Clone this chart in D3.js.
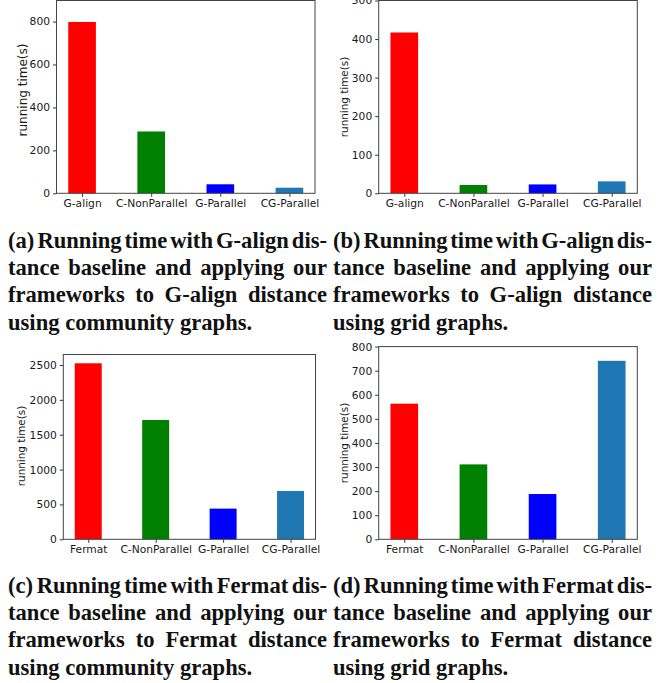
<!DOCTYPE html>
<html>
<head>
<meta charset="utf-8">
<script src="https://cdnjs.cloudflare.com/ajax/libs/d3/7.8.5/d3.min.js"></script>
<style>
  body { margin: 0; background: #fff; }
  svg { display: block; }
</style>
</head>
<body>
<div id="fig"></div>
<script>
// categories of each subplot
var catsAlign = ["G-align", "C-NonParallel", "G-Parallel", "CG-Parallel"];
var catsFermat = ["Fermat", "C-NonParallel", "G-Parallel", "CG-Parallel"];

// running time (s)
var timesA = [798, 288, 42, 26];
var timesB = [417, 21.5, 23, 31];
var timesC = [2524, 1711, 440, 693];
var timesD = [563, 311, 188, 741];

// y tick labels
var ticksA = [0, 200, 400, 600, 800];
var ticksB = [0, 100, 200, 300, 400, 500];
var ticksC = [0, 500, 1000, 1500, 2000, 2500];
var ticksD = [0, 100, 200, 300, 400, 500, 600, 700, 800];

var barColors = ["#ff0000", "#008000", "#0000ff", "#1f77b4"];

var captionA = ["(a) Running time with G-align dis-", "tance baseline and applying our",
  "frameworks to G-align distance", "using community graphs."];
var captionB = ["(b) Running time with G-align dis-", "tance baseline and applying our",
  "frameworks to G-align distance", "using grid graphs."];
var captionC = ["(c) Running time with Fermat dis-", "tance baseline and applying our",
  "frameworks to Fermat distance", "using community graphs."];
var captionD = ["(d) Running time with Fermat dis-", "tance baseline and applying our",
  "frameworks to Fermat distance", "using grid graphs."];

var svg = d3.select("#fig")
  .append("svg")
  .attr("width", 667)
  .attr("height", 683);

var panels = [
  {cats: catsAlign, vals: timesA, ticks: ticksA, yMax: 898, left: 56.5, right: 315, top: 0.5, bottom: 193.3, labelX: 22.7, labelY: 90, labelSize: 12},
  {cats: catsAlign, vals: timesB, ticks: ticksB, yMax: 500, left: 378.7, right: 637.3, top: 0.5, bottom: 193.3, labelX: 344.7, labelY: 97, labelSize: 10.4},
  {cats: catsFermat, vals: timesC, ticks: ticksC, yMax: 2650, left: 63.3, right: 315.5, top: 354.5, bottom: 539.3, labelX: 21.7, labelY: 446, labelSize: 10.4},
  {cats: catsFermat, vals: timesD, ticks: ticksD, yMax: 800, left: 378.7, right: 637.3, top: 346.6, bottom: 539.3, labelX: 344.7, labelY: 443, labelSize: 10.4}
];

var tickFont = "'DejaVu Sans', sans-serif";

panels.forEach(function(p) {
  var g = svg.append("g");

  // matplotlib bar positions: index with width 0.4 and 5% margins
  var x = d3.scaleLinear()
    .domain([-0.37, p.cats.length - 1 + 0.37])
    .range([p.left, p.right]);
  var y = d3.scaleLinear()
    .domain([0, p.yMax])
    .range([p.bottom, p.top]);

  g.selectAll("rect.bar")
    .data(p.vals)
    .enter()
    .append("rect")
    .attr("class", "bar")
    .attr("x", function(d, i) { return x(i - 0.2); })
    .attr("y", function(d) { return y(d); })
    .attr("width", function(d, i) { return x(i + 0.2) - x(i - 0.2); })
    .attr("height", function(d) { return y(0) - y(d); })
    .style("fill", function(d, i) { return barColors[i]; });

  var yAxis = g.append("g")
    .attr("transform", "translate(" + p.left + ",0)")
    .call(d3.axisLeft(y).tickValues(p.ticks).tickFormat(d3.format("d"))
      .tickSize(3.5).tickPadding(3).tickSizeOuter(0));
  var xAxis = g.append("g")
    .attr("transform", "translate(0," + p.bottom + ")")
    .call(d3.axisBottom(x).tickValues(d3.range(p.cats.length))
      .tickFormat(function(i) { return p.cats[i]; })
      .tickSize(3.5).tickPadding(3).tickSizeOuter(0));

  [yAxis, xAxis].forEach(function(a) {
    a.select(".domain").remove();
    a.selectAll("line").attr("stroke", "#333");
    a.selectAll("text")
      .attr("fill", "#1a1a1a")
      .style("font-family", tickFont)
      .style("font-size", "10.7px");
  });

  // spines
  g.append("rect")
    .attr("x", p.left)
    .attr("y", p.top)
    .attr("width", p.right - p.left)
    .attr("height", p.bottom - p.top)
    .attr("fill", "none")
    .attr("stroke", "#444")
    .attr("stroke-width", 1);

  g.append("text")
    .attr("transform", "translate(" + p.labelX + "," + p.labelY + ") rotate(-90)")
    .attr("text-anchor", "middle")
    .attr("dy", "0.35em")
    .attr("fill", "#1a1a1a")
    .style("font-family", tickFont)
    .style("font-size", p.labelSize + "px")
    .text("running time(s)");
});

// justified bold serif captions
var capFont = "'Linux Libertine O', 'Liberation Serif', serif";
var capSize = 22.6;
var lineGap = 27.4;

function caption(lines, x0, width, y0) {
  var g = svg.append("g")
    .style("font-family", capFont)
    .style("font-size", capSize + "px")
    .style("font-weight", "bold")
    .attr("fill", "#111");

  lines.forEach(function(line, li) {
    var words = line.split(" ");
    var yy = y0 + li * lineGap;
    var t = g.append("text").attr("y", yy);
    var spans = t.selectAll("tspan")
      .data(words)
      .enter()
      .append("tspan")
      .attr("y", yy)
      .text(function(d) { return d; });
    var widths = [];
    spans.each(function() { widths.push(this.getComputedTextLength()); });
    var total = d3.sum(widths);
    var gap = (li === lines.length - 1 || words.length < 2)
      ? capSize * 0.25
      : (width - total) / (words.length - 1);
    var cx = x0;
    spans.attr("x", function(d, i) {
      var here = cx;
      cx += widths[i] + gap;
      return here;
    });
  });
}

caption(captionA, 8, 319, 247.5);
caption(captionB, 333, 319, 247.5);
caption(captionC, 8, 319, 592.5);
caption(captionD, 333, 319, 592.5);
</script>
</body>
</html>
